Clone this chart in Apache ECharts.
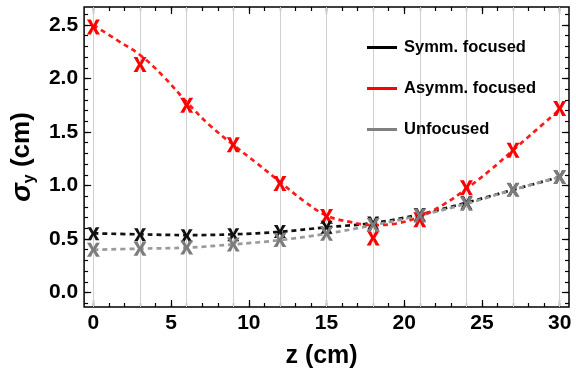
<!DOCTYPE html>
<html>
<head>
<meta charset="utf-8">
<script src="https://cdn.jsdelivr.net/npm/echarts@6/dist/echarts.min.js"></script>
<style>html,body{margin:0;padding:0;background:#fff;}#c{width:576px;height:377px;}</style>
</head>
<body>
<div id="c"></div>
<script>
// ---- data ----
const zPts = [0, 3, 6, 9, 12, 15, 18, 21, 24, 27, 30];
const symm = [0.55, 0.54, 0.53, 0.54, 0.57, 0.61, 0.65, 0.73, 0.84, 0.96, 1.08];
const asymm = [2.48, 2.13, 1.75, 1.38, 1.02, 0.71, 0.51, 0.68, 0.98, 1.33, 1.72];
const unfoc = [0.40, 0.41, 0.42, 0.45, 0.49, 0.55, 0.63, 0.72, 0.83, 0.96, 1.08];
// fitted (dashed) curves
const fitZ = [0, 1.5, 3, 4.5, 6, 7.5, 9, 10.5, 12, 13.5, 15, 16.5, 18, 19.5, 21, 22.5, 24, 25.5, 27, 28.5, 30];
const asymmFit = [2.50, 2.36, 2.22, 2.02, 1.78, 1.56, 1.38, 1.21, 1.035, 0.86, 0.72, 0.66, 0.63, 0.645, 0.71, 0.82, 0.97, 1.14, 1.33, 1.52, 1.71];
const symmFit = [0.553, 0.544, 0.537, 0.544, 0.568, 0.61, 0.65, 0.73, 0.84, 0.96, 1.08];
const unfocFit = [0.40, 0.41, 0.42, 0.45, 0.49, 0.55, 0.63, 0.72, 0.83, 0.96, 1.08];
// ticks / labels
const xMajor = [0, 5, 10, 15, 20, 25, 30];
const xMinor = [];
for (let i = 0; i <= 30; i++) xMinor.push(i);
const xGrid = [0, 3, 6, 9, 12, 15, 18, 21, 24, 27, 30];
const yMajor = [0, 0.5, 1.0, 1.5, 2.0, 2.5];
const yMinor = [];
for (let i = -1; i <= 26; i++) yMinor.push(+(i / 10).toFixed(1));
const legendNames = ['Symm. focused', 'Asymm. focused', 'Unfocused'];
const legendColors = ['#000000', '#ff0000', '#808080'];

const FONT = '"Liberation Sans", Arial, sans-serif';
const X_MIN = -0.6, X_MAX = 30.6, Y_MIN = -0.135, Y_MAX = 2.668;
const xPath = 'path://M0,0 H3.7 L6,5 L8.3,0 H12 L7.9,7 L12,14 H8.3 L6,9 L3.7,14 H0 L4.1,7 Z';

function pairs(xs, ys) { return xs.map((x, i) => [x, ys[i]]); }

function tickAxis(kind, pos, values, len, labels, extra) {
  const isX = kind === 'x';
  const a = {
    type: 'value',
    min: isX ? X_MIN : Y_MIN,
    max: isX ? X_MAX : Y_MAX,
    position: pos,
    axisLine: { show: false, onZero: false },
    axisTick: { show: true, inside: true, length: len, customValues: values,
      lineStyle: { color: '#000', width: 1.2 } },
    axisLabel: labels ? {
      show: true, customValues: values, fontSize: 21, fontWeight: 'bold', color: '#000',
      fontFamily: FONT, margin: 6,
      formatter: isX ? (v => String(Math.round(v))) : (v => (+v).toFixed(1))
    } : { show: false },
    splitLine: { show: false },
    minorTick: { show: false }
  };
  return Object.assign(a, extra || {});
}

// legend-only (empty) series
const legendSeries = legendNames.map((n, i) => ({
  type: 'line', name: n, data: [], symbol: 'none',
  lineStyle: { color: legendColors[i], width: 3, type: 'solid' }, itemStyle: { color: legendColors[i] }
}));

const chart = echarts.init(document.getElementById('c'), null, { renderer: 'canvas' });
chart.setOption({
  animation: false,
  backgroundColor: '#fff',
  grid: { left: 84, right: 7, top: 7, bottom: 70, show: true, borderColor: '#000', borderWidth: 1.5, backgroundColor: 'transparent' },
  legend: {
    z: 30,
    data: legendNames.map(n => ({ name: n, icon: 'rect' })),
    orient: 'vertical',
    left: 362, top: 34,
    itemWidth: 30, itemHeight: 3, itemGap: 24,
    textStyle: { fontSize: 16.5, fontWeight: 'bold', color: '#000', fontFamily: FONT, padding: [0, 0, 0, 2] }
  },
  xAxis: [
    tickAxis('x', 'bottom', xMajor, 7, true, {
      name: 'z (cm)', nameLocation: 'middle', nameGap: 37,
      nameTextStyle: { fontSize: 25, fontWeight: 'bold', color: '#000', fontFamily: FONT, padding: [0, 10, 0, 0] }
    }),
    tickAxis('x', 'bottom', xMinor, 4, false),
    tickAxis('x', 'top', xMajor, 7, false),
    tickAxis('x', 'top', xMinor, 4, false)
  ],
  yAxis: [
    tickAxis('y', 'left', yMajor, 7, true, {
      name: '{s|σ}{sub|y}{n| (cm)}', nameLocation: 'middle', nameGap: 43, nameRotate: 90,
      nameTextStyle: {
        color: '#000', fontFamily: FONT, fontWeight: 'bold', fontSize: 26,
        rich: {
          s: { fontSize: 28, fontStyle: 'italic', fontWeight: 'bold', color: '#000', fontFamily: FONT, lineHeight: 32, verticalAlign: 'middle' },
          sub: { fontSize: 16, fontWeight: 'bold', color: '#000', fontFamily: FONT, lineHeight: 32, verticalAlign: 'bottom' },
          n: { fontSize: 26, fontWeight: 'bold', color: '#000', fontFamily: FONT, lineHeight: 32, verticalAlign: 'middle' }
        }
      }
    }),
    tickAxis('y', 'left', yMinor, 4, false),
    tickAxis('y', 'right', yMajor, 7, false),
    tickAxis('y', 'right', yMinor, 4, false)
  ],
  series: legendSeries.concat([
    {
      type: 'line', name: 'grid', data: [], silent: true, z: 1,
      markLine: {
        silent: true, symbol: ['none', 'none'], label: { show: false }, z: 1,
        lineStyle: { color: '#cfcfcf', type: 'solid', width: 1 },
        data: xGrid.map(v => ({ xAxis: v }))
      }
    },
    {
      type: 'line', name: 'symm-fit', data: pairs(zPts, symmFit), smooth: 0.4, symbol: 'none', z: 10,
      lineStyle: { color: '#111', width: 2.7, type: [5, 4] }
    },
    {
      type: 'line', name: 'unfoc-fit', data: pairs(zPts, unfocFit), smooth: 0.4, symbol: 'none', z: 10,
      lineStyle: { color: '#9a9a9a', width: 2.7, type: [5, 4] }
    },
    {
      type: 'line', name: 'asymm-fit', data: pairs(fitZ, asymmFit), smooth: 0.4, symbol: 'none', z: 10,
      lineStyle: { color: '#ff1a1a', width: 2.7, type: [5, 4] }
    },
    {
      type: 'scatter', name: 'asymm-pts', data: pairs(zPts, asymm), symbol: xPath, symbolSize: [13, 15], z: 12,
      itemStyle: { color: '#ff0000', opacity: 1 }
    },
    {
      type: 'scatter', name: 'symm-pts', data: pairs(zPts, symm), symbol: xPath, symbolSize: [12, 13], z: 12,
      itemStyle: { color: '#111', opacity: 1 }
    },
    {
      type: 'scatter', name: 'unfoc-pts', data: pairs(zPts, unfoc), symbol: xPath, symbolSize: [13, 14], z: 13,
      itemStyle: { color: '#7c7c7c', opacity: 1 }
    }
  ])
});
</script>
</body>
</html>
